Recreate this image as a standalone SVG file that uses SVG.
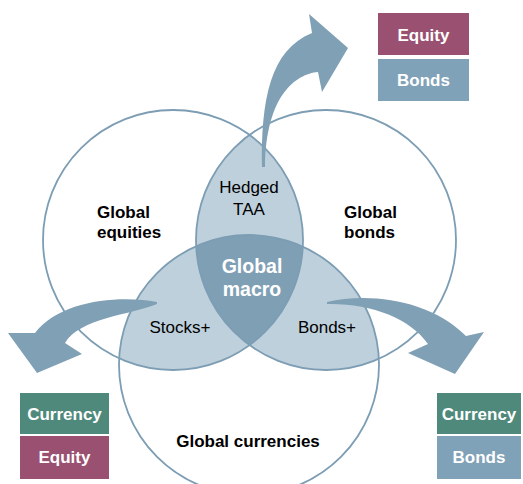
<svg xmlns="http://www.w3.org/2000/svg" width="523" height="484" viewBox="0 0 523 484">
  <style>
    .lbl { font-family: "Liberation Sans", Arial, sans-serif; font-size: 17px; fill: #000; }
    .b { font-weight: bold; }
    .w { fill: #fff; font-weight: bold; }
    .ring { fill: none; stroke: #7C9DB3; stroke-width: 1.8; }
    .light { fill: #BED0DC; }
    .dark { fill: #7F9FB5; }
    .arrow { fill: #7FA0B5; }
  </style>
  <defs>
    <clipPath id="clipL"><circle cx="173" cy="240" r="130"/></clipPath>
    <clipPath id="clipR"><circle cx="326" cy="240" r="130"/></clipPath>
    <clipPath id="clipB"><circle cx="249" cy="365" r="130"/></clipPath>
  </defs>
  <rect width="523" height="484" fill="#fff"/>

  <g id="overlaps">
    <circle class="light" cx="326" cy="240" r="130" clip-path="url(#clipL)"/>
    <circle class="light" cx="249" cy="365" r="130" clip-path="url(#clipL)"/>
    <circle class="light" cx="249" cy="365" r="130" clip-path="url(#clipR)"/>
    <g clip-path="url(#clipL)">
      <circle class="dark" cx="249" cy="365" r="130" clip-path="url(#clipR)"/>
    </g>
  </g>

  <g id="global-equities">
    <circle class="ring" cx="173" cy="240" r="130"/>
    <text class="lbl b" x="97" y="218">Global</text>
    <text class="lbl b" x="97" y="238">equities</text>
  </g>
  <g id="global-bonds">
    <circle class="ring" cx="326" cy="240" r="130"/>
    <text class="lbl b" x="344" y="218">Global</text>
    <text class="lbl b" x="344" y="238">bonds</text>
  </g>
  <g id="global-currencies">
    <circle class="ring" cx="249" cy="365" r="130"/>
    <text class="lbl b" x="248" y="447" text-anchor="middle">Global currencies</text>
  </g>
  <g id="hedged-taa">
    <text class="lbl" x="249" y="193" text-anchor="middle">Hedged</text>
    <text class="lbl" x="249" y="215" text-anchor="middle">TAA</text>
  </g>
  <g id="global-macro">
    <text class="lbl w" x="252" y="273" text-anchor="middle" style="font-size:19.5px">Global</text>
    <text class="lbl w" x="252" y="296" text-anchor="middle" style="font-size:19.5px">macro</text>
  </g>
  <g id="stocks-plus">
    <text class="lbl" x="180" y="333" text-anchor="middle">Stocks+</text>
  </g>
  <g id="bonds-plus">
    <text class="lbl" x="327" y="333" text-anchor="middle">Bonds+</text>
  </g>

  <g id="connectors">
    <path class="arrow" d="M 262,167 C 261,100 270,50 312,33 L 309,14 L 348,48 L 322,92 L 318,72 C 296,74 266,95 265,167 Z"/>
    <path class="arrow" d="M 157,302 C 120,295 60,300 35,333 L 8,333 L 37,373 L 82,354 L 65,343 C 80,318 130,315 157,304 Z"/>
    <path class="arrow" d="M 327,302 C 370,292 430,300 466,336 L 484,332 L 455,374 L 408,353 L 428,344 C 410,318 370,303 327,304 Z"/>
  </g>

  <g id="top-legend">
    <rect x="378" y="13" width="91" height="42" fill="#9A5070"/>
    <text class="lbl w" x="423.5" y="40.5" text-anchor="middle">Equity</text>
    <rect x="378" y="59" width="91" height="42" fill="#80A2B8"/>
    <text class="lbl w" x="423.5" y="86" text-anchor="middle">Bonds</text>
  </g>
  <g id="left-legend">
    <rect x="20" y="393" width="89" height="41" fill="#4E897B"/>
    <text class="lbl w" x="64.5" y="419.5" text-anchor="middle">Currency</text>
    <rect x="20" y="436" width="89" height="43" fill="#9A5070"/>
    <text class="lbl w" x="64.5" y="463" text-anchor="middle">Equity</text>
  </g>
  <g id="right-legend">
    <rect x="437" y="393" width="84" height="41" fill="#4E897B"/>
    <text class="lbl w" x="479" y="419.5" text-anchor="middle">Currency</text>
    <rect x="437" y="436" width="84" height="43" fill="#80A2B8"/>
    <text class="lbl w" x="479" y="463" text-anchor="middle">Bonds</text>
  </g>
</svg>
